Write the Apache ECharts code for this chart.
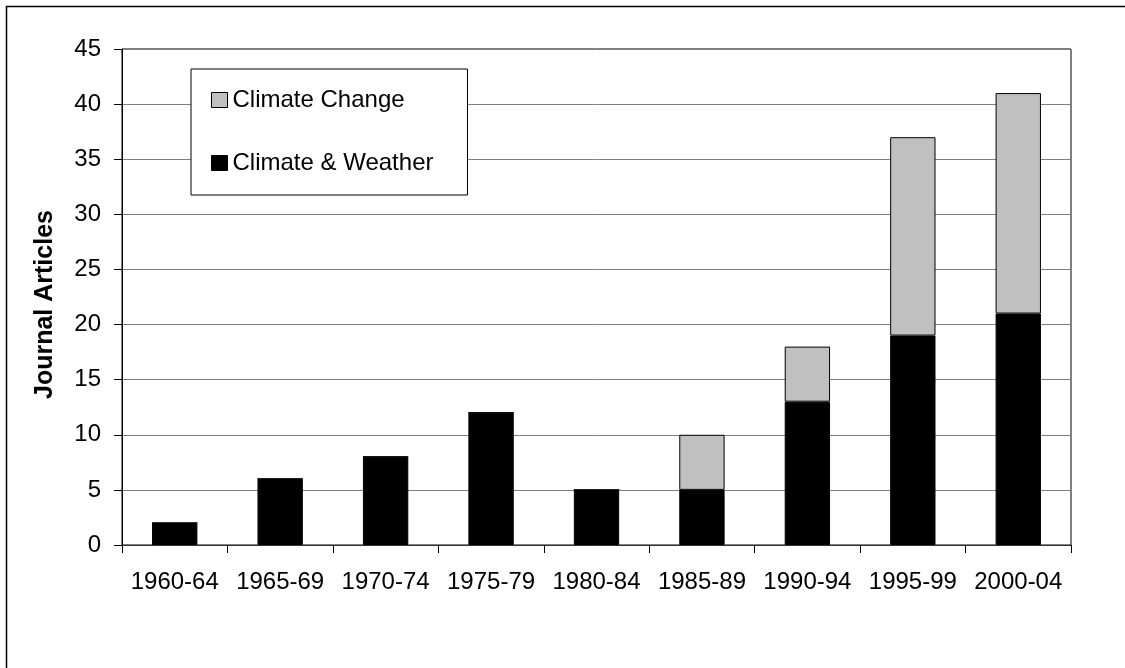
<!DOCTYPE html>
<html><head><meta charset="utf-8">
<script src="https://cdn.jsdelivr.net/npm/echarts@6/dist/echarts.min.js"></script>
<style>html,body{margin:0;padding:0;background:#fff}#c{width:1125px;height:668px}</style>
</head><body><div id="c"></div>
<script>
const categories = ['1960-64','1965-69','1970-74','1975-79','1980-84','1985-89','1990-94','1995-99','2000-04'];
const climateWeather = [2,6,8,12,5,5,13,19,21];
const climateChange = [0,0,0,0,0,5,5,18,20];
const yTicks = {min:0, max:45, interval:5};

const chart = echarts.init(document.getElementById('c'), null, {renderer:'canvas'});
const font = 'Liberation Sans, Arial, sans-serif';
chart.setOption({
  animation:false,
  backgroundColor:'#fff',
  graphic:[{type:'rect', shape:{x:6.5,y:6.5,width:1300,height:1000}, style:{fill:'none', stroke:'#000', lineWidth:1.5}, z:-1}],
  grid:{left:122, top:49, right:54, bottom:123, show:true, borderColor:'#000', borderWidth:1, backgroundColor:'transparent'},
  legend:{
    data:['Climate Change','Climate & Weather'],
    orient:'vertical', left:191, top:69,
    padding:[19,34,20,20], itemGap:39,
    backgroundColor:'#fff', borderColor:'#000', borderWidth:1, borderRadius:0,
    icon:'rect', itemWidth:16, itemHeight:15,
    itemStyle:{borderColor:'#000', borderWidth:1},
    textStyle:{fontFamily:font, fontSize:24, color:'#000', lineHeight:24}
  },
  xAxis:{
    type:'category', data:categories,
    axisLine:{lineStyle:{color:'#333', width:1}},
    axisTick:{show:true, length:8, lineStyle:{color:'#000'}, alignWithLabel:false},
    axisLabel:{fontFamily:font, fontSize:24, color:'#000', margin:25, interval:0}
  },
  yAxis:{
    type:'value', min:yTicks.min, max:yTicks.max, interval:yTicks.interval,
    name:'Journal Articles', nameLocation:'middle', nameGap:64, nameRotate:90,
    nameTextStyle:{fontFamily:font, fontSize:25, fontWeight:'bold', color:'#000', padding:[0,15,0,0]},
    axisLine:{show:true, lineStyle:{color:'#000', width:1}},
    axisTick:{show:true, length:8, lineStyle:{color:'#000'}},
    axisLabel:{fontFamily:font, fontSize:24, color:'#000', margin:21, padding:[6,0,0,0]},
    splitLine:{show:true, lineStyle:{color:'#808080', width:1}}
  },
  series:[
    {name:'Climate & Weather', type:'bar', stack:'a', data:climateWeather, barWidth:'43%',
     itemStyle:{color:'#000', borderColor:'#000', borderWidth:1}},
    {name:'Climate Change', type:'bar', stack:'a', data:climateChange, barWidth:'43%',
     itemStyle:{color:'#c0c0c0', borderColor:'#000', borderWidth:1}}
  ]
});
</script></body></html>
